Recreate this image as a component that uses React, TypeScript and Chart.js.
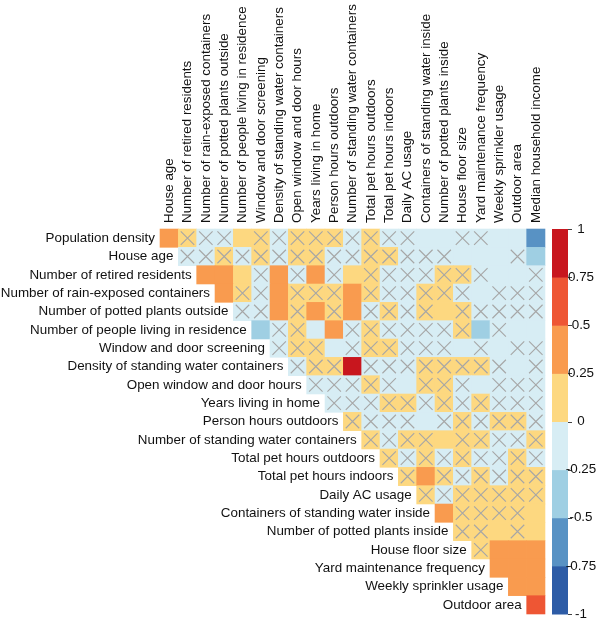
import { useEffect, useRef } from "react";
import { Chart, registerables } from "chart.js";

Chart.register(...registerables);

const rowLabels = [
  "Population density",
  "House age",
  "Number of retired residents",
  "Number of rain-exposed containers",
  "Number of potted plants outside",
  "Number of people living in residence",
  "Window and door screening",
  "Density of standing water containers",
  "Open window and door hours",
  "Years living in home",
  "Person hours outdoors",
  "Number of standing water containers",
  "Total pet hours outdoors",
  "Total pet hours indoors",
  "Daily AC usage",
  "Containers of standing water inside",
  "Number of potted plants inside",
  "House floor size",
  "Yard maintenance frequency",
  "Weekly sprinkler usage",
  "Outdoor area",
];

const colLabels = [
  "House age",
  "Number of retired residents",
  "Number of rain-exposed containers",
  "Number of potted plants outside",
  "Number of people living in residence",
  "Window and door screening",
  "Density of standing water containers",
  "Open window and door hours",
  "Years living in home",
  "Person hours outdoors",
  "Number of standing water containers",
  "Total pet hours outdoors",
  "Total pet hours indoors",
  "Daily AC usage",
  "Containers of standing water inside",
  "Number of potted plants inside",
  "House floor size",
  "Yard maintenance frequency",
  "Weekly sprinkler usage",
  "Outdoor area",
  "Median household income",
];

// Row i holds correlations with columns i .. 20 (upper triangle)
const correlations: number[][] = [
  [0.31, 0.05, -0.04, -0.06, 0.14, 0.07, -0.03, 0.06, 0.08, 0.05, -0.05, 0.09, -0.07, -0.04, -0.15, -0.18, -0.06, -0.05, -0.14, -0.16, -0.58],
  [-0.06, -0.03, 0.08, -0.05, 0.06, -0.02, 0.07, 0.09, -0.04, -0.06, 0.05, 0.07, -0.05, -0.03, -0.07, -0.14, -0.13, -0.16, -0.08, -0.33],
  [0.38, 0.34, 0.18, -0.05, 0.36, -0.04, 0.32, -0.06, 0.17, 0.08, -0.05, -0.07, -0.04, 0.07, 0.06, -0.05, -0.14, -0.15, -0.06],
  [0.42, 0.07, -0.05, 0.35, 0.08, 0.06, 0.09, 0.33, 0.07, -0.04, -0.06, 0.08, 0.07, -0.05, -0.13, -0.07, -0.06, -0.08],
  [-0.05, -0.04, 0.37, 0.09, 0.31, 0.08, 0.36, -0.06, 0.07, -0.05, 0.09, 0.16, 0.08, -0.07, -0.05, -0.06, -0.04],
  [-0.29, -0.06, 0.07, -0.14, 0.33, -0.05, 0.08, -0.04, -0.07, -0.05, -0.06, 0.09, -0.28, -0.07, -0.15, -0.13],
  [-0.05, 0.08, 0.07, -0.14, -0.06, 0.09, 0.06, -0.04, -0.05, -0.07, -0.13, -0.06, -0.15, -0.05, -0.07],
  [-0.05, 0.08, 0.09, 0.86, -0.04, -0.06, -0.05, 0.07, 0.09, 0.06, 0.08, -0.05, -0.14, -0.06],
  [-0.06, -0.04, -0.05, 0.08, -0.07, -0.13, 0.07, 0.09, -0.05, -0.14, -0.06, -0.04, -0.07],
  [-0.05, -0.06, -0.04, 0.08, 0.07, -0.05, 0.09, -0.06, 0.08, -0.04, -0.07, -0.05],
  [0.08, -0.05, -0.06, -0.04, -0.14, -0.05, 0.07, -0.06, 0.09, 0.08, -0.05],
  [0.09, -0.05, 0.07, 0.08, 0.17, 0.09, 0.07, -0.06, -0.04, 0.08],
  [0.08, -0.05, 0.07, -0.06, 0.09, -0.04, -0.05, 0.08, -0.06],
  [0.07, 0.34, 0.08, -0.05, 0.09, -0.04, 0.07, 0.08],
  [0.08, -0.05, 0.07, 0.09, 0.06, 0.08, 0.07],
  [0.36, 0.08, 0.07, 0.09, 0.06, 0.18],
  [0.07, 0.09, 0.16, 0.08, 0.19],
  [0.09, 0.41, 0.38, 0.44],
  [0.36, 0.33, 0.39],
  [0.46, 0.42],
  [0.62],
];

// 1 = not significant (crossed out)
const notSignificant: number[][] = [
  [0, 1, 1, 1, 0, 1, 1, 1, 1, 1, 1, 1, 1, 1, 0, 0, 1, 1, 0, 0, 0],
  [1, 1, 1, 1, 1, 1, 1, 1, 1, 1, 1, 1, 1, 1, 1, 0, 0, 0, 1, 0],
  [0, 0, 0, 1, 0, 1, 0, 1, 0, 1, 1, 1, 1, 1, 1, 1, 0, 0, 1],
  [0, 1, 1, 0, 1, 1, 1, 0, 1, 1, 1, 1, 1, 1, 0, 1, 1, 1],
  [1, 1, 0, 1, 0, 1, 0, 1, 1, 1, 1, 0, 1, 1, 1, 1, 1],
  [0, 1, 1, 0, 0, 1, 1, 1, 1, 1, 1, 1, 0, 1, 0, 0],
  [1, 1, 1, 0, 1, 1, 1, 1, 1, 1, 0, 1, 0, 1, 1],
  [1, 1, 1, 0, 1, 1, 1, 1, 1, 1, 1, 1, 0, 1],
  [1, 1, 1, 1, 1, 0, 1, 1, 1, 0, 1, 1, 1],
  [1, 1, 1, 1, 1, 1, 1, 1, 1, 1, 1, 1],
  [1, 1, 1, 1, 0, 1, 1, 1, 1, 1, 1],
  [1, 1, 1, 1, 0, 1, 1, 1, 1, 1],
  [1, 1, 1, 1, 1, 1, 1, 1, 1],
  [1, 0, 1, 1, 1, 1, 1, 1],
  [1, 1, 1, 1, 1, 1, 1],
  [0, 1, 1, 1, 1, 0],
  [1, 1, 0, 1, 0],
  [1, 0, 0, 0],
  [0, 0, 0],
  [0, 0],
  [0],
];

const colorbarTicks = [1, 0.75, 0.5, 0.25, 0, -0.25, -0.5, -0.75, -1];
const colorbarTickLabels = ["1", "0.75", "0.5", "0.25", "0", "-0.25", "-0.5", "-0.75", "-1"];
// bins from -1 up to 1, step 0.25
const binColors = ["#2d5ca6", "#5892c4", "#9fcfe3", "#d7edf4", "#fdd880", "#f99b4f", "#ee5634", "#c8161e"];

const FONT = "13.4px 'Liberation Sans', Arial, sans-serif";

function colorFor(v: number): string {
  let k = Math.floor((v + 1) / 0.25);
  if (k < 0) k = 0;
  if (k > 7) k = 7;
  return binColors[k];
}

const labelPlugin = {
  id: "corrLabels",
  afterDraw(chart: any) {
    const { ctx, chartArea } = chart;
    const xs = chart.scales.x;
    const ys = chart.scales.y;
    ctx.save();
    ctx.font = FONT;
    ctx.fillStyle = "#111";
    // column labels
    colLabels.forEach((lab, j) => {
      ctx.save();
      ctx.translate(xs.getPixelForValue(j), chartArea.top - 6);
      ctx.rotate(-Math.PI / 2);
      ctx.textAlign = "left";
      ctx.textBaseline = "middle";
      ctx.fillText(lab, 0, 0);
      ctx.restore();
    });
    // row labels next to diagonal
    rowLabels.forEach((lab, i) => {
      ctx.textAlign = "right";
      ctx.textBaseline = "middle";
      ctx.fillText(lab, xs.getPixelForValue(i - 0.5) - 5, ys.getPixelForValue(i));
    });
    // colour bar
    const bx0 = chartArea.right + 7;
    const bw = 16;
    const top = chartArea.top;
    const bottom = chartArea.bottom;
    const span = bottom - top;
    const toY = (v: number) => top + ((1 - v) / 2) * span;
    for (let k = 0; k < binColors.length; k++) {
      const lo = -1 + k * 0.25;
      const hi = lo + 0.25;
      ctx.fillStyle = binColors[k];
      const y1 = toY(hi);
      const y2 = toY(lo);
      ctx.fillRect(bx0, y1, bw, y2 - y1 + 0.5);
    }
    ctx.strokeStyle = "#444";
    ctx.lineWidth = 1;
    ctx.fillStyle = "#111";
    ctx.textAlign = "center";
    ctx.textBaseline = "middle";
    colorbarTicks.forEach((t, idx) => {
      const y = Math.round(toY(t)) + 0.5;
      ctx.beginPath();
      ctx.moveTo(bx0 + bw, y);
      ctx.lineTo(bx0 + bw + 4, y);
      ctx.stroke();
      ctx.fillText(colorbarTickLabels[idx], bx0 + bw + 13, toY(t));
    });
    ctx.restore();
  },
};

export default function App() {
  const canvasRef = useRef<HTMLCanvasElement | null>(null);

  useEffect(() => {
    const cells: any[] = [];
    const cellColors: string[] = [];
    const crosses: any[] = [];
    correlations.forEach((row, i) => {
      row.forEach((v, k) => {
        const j = i + k;
        cells.push({ x: j, y: i, v });
        cellColors.push(colorFor(v));
        if (notSignificant[i][k]) crosses.push({ x: j, y: i });
      });
    });

    const cellPx = (c: any) => {
      const s = c.chart.scales.x;
      return Math.abs(s.getPixelForValue(1) - s.getPixelForValue(0));
    };

    const chart = new Chart(canvasRef.current as HTMLCanvasElement, {
      type: "scatter",
      data: {
        datasets: [
          {
            data: cells,
            order: 2,
            pointStyle: "rect",
            backgroundColor: cellColors,
            borderWidth: 0,
            pointRadius: (c: any) => (cellPx(c) + 0.6) / Math.SQRT2,
            pointHoverRadius: (c: any) => (cellPx(c) + 0.6) / Math.SQRT2,
            clip: false,
          } as any,
          {
            data: crosses,
            order: 1,
            pointStyle: "crossRot",
            borderColor: "#a6a6a6",
            backgroundColor: "#a6a6a6",
            borderWidth: 1.1,
            pointRadius: (c: any) => cellPx(c) * 0.52,
            pointHoverRadius: (c: any) => cellPx(c) * 0.52,
            clip: false,
          } as any,
        ],
      },
      options: {
        animation: false,
        responsive: false,
        devicePixelRatio: 1,
        events: [],
        layout: { padding: { left: 160, right: 55, top: 229, bottom: 10 } },
        scales: {
          x: { type: "linear", min: -0.5, max: 20.5, display: false },
          y: { type: "linear", min: -0.5, max: 20.5, reverse: true, display: false },
        },
        plugins: {
          legend: { display: false },
          tooltip: { enabled: false },
        },
      },
      plugins: [labelPlugin],
    });
    return () => chart.destroy();
  }, []);

  return (
    <div style={{ position: "absolute", left: 0, top: 0, width: 600, height: 624, background: "#fff" }}>
      <canvas ref={canvasRef} width={600} height={624} style={{ width: 600, height: 624 }} />
    </div>
  );
}
